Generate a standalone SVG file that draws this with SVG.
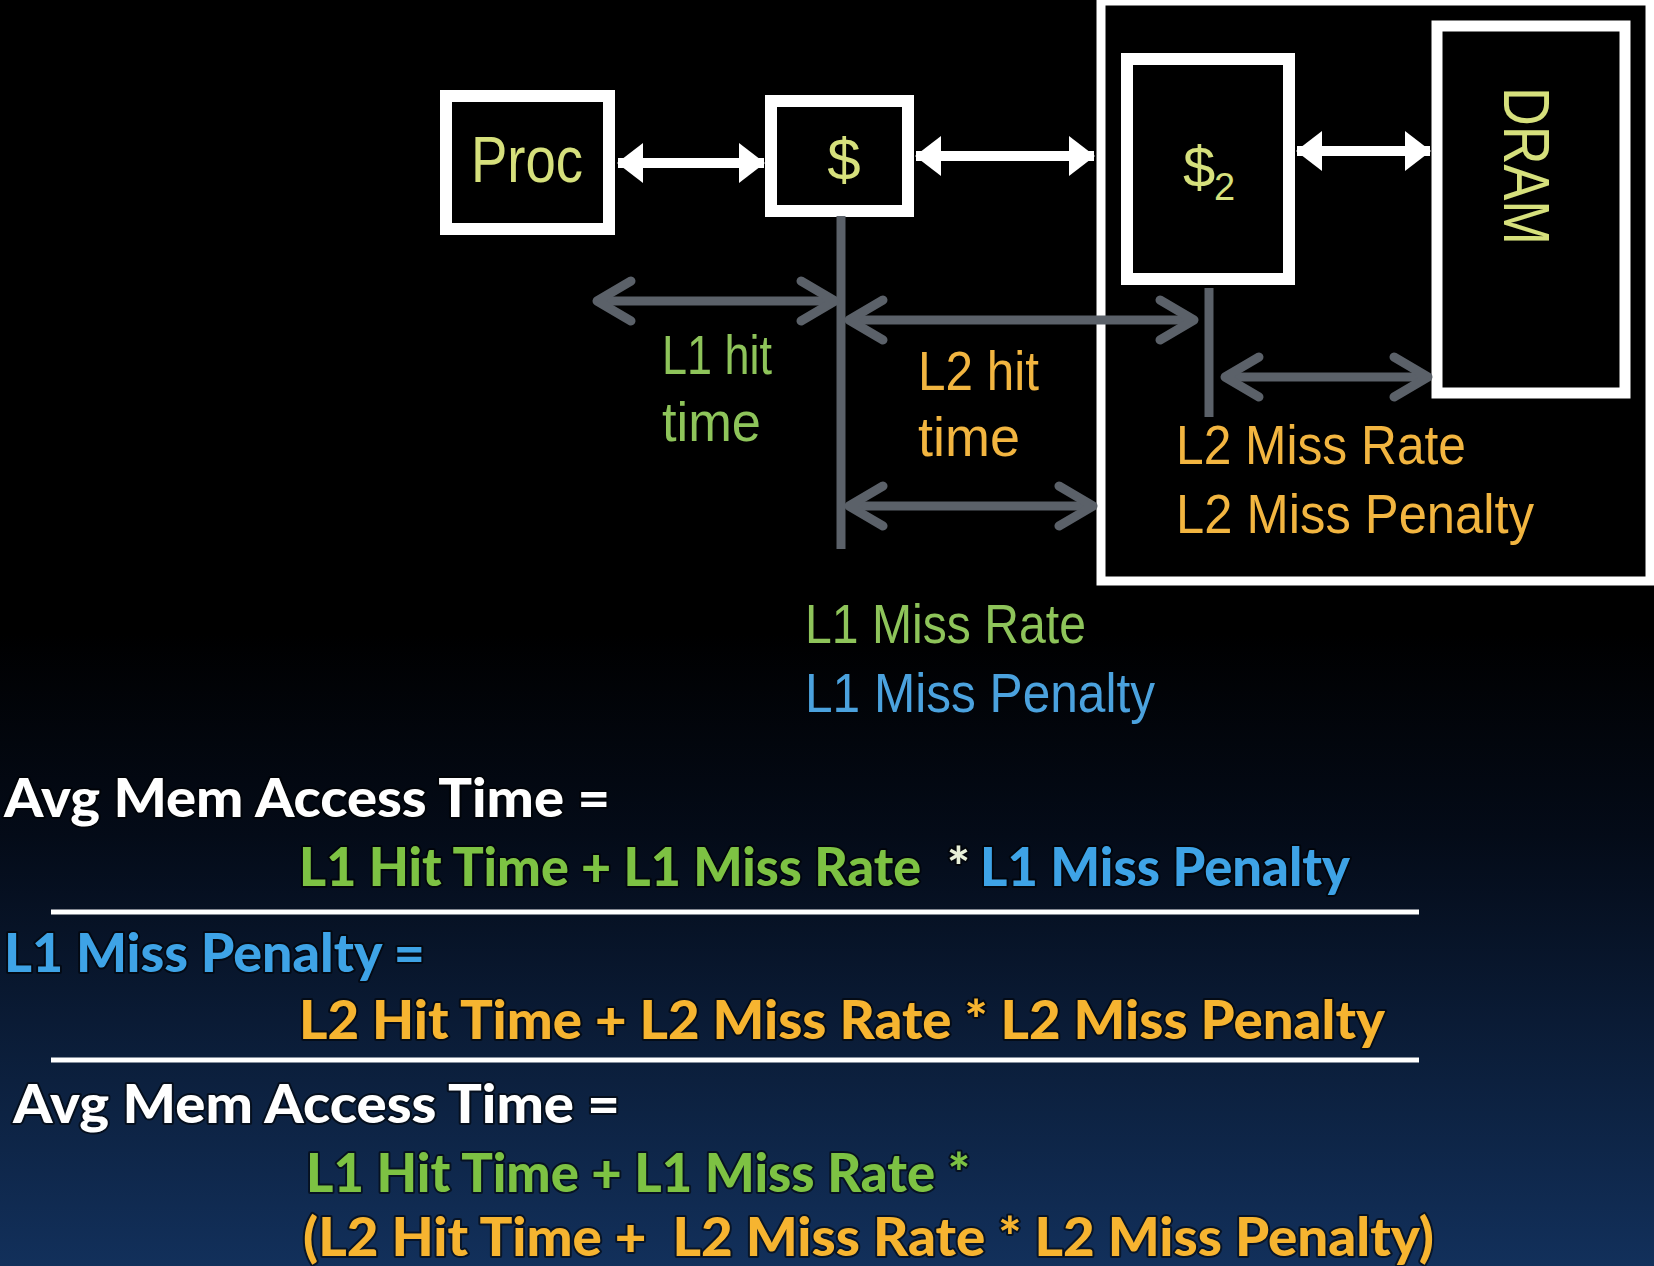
<svg xmlns="http://www.w3.org/2000/svg" width="1654" height="1266" viewBox="0 0 1654 1266">
<style>
.box{fill:#000;stroke:#fff}
.lbl{font-family:"Liberation Sans","Noto Sans",sans-serif;font-weight:400}
.f{font-family:"Lato","Open Sans","Liberation Sans",sans-serif;font-weight:900;stroke:#000;stroke-width:4;stroke-opacity:0.55;paint-order:stroke;stroke-linejoin:round}
.yg{fill:#d6e07c}
.g{fill:#8ec45a}
.o{fill:#f2b540}
.b{fill:#4ba2de}
.fg{fill:#7dc243}
.fo{fill:#f6b430}
.fb{fill:#3ea3e6}
.fw{fill:#fff}
.gl{stroke:#5b6169;stroke-width:9;fill:none}
.wl{stroke:#fff;stroke-width:10;fill:none}
</style>
<defs>
<linearGradient id="bg" x1="0" y1="0" x2="0" y2="1">
<stop offset="0" stop-color="#000"/>
<stop offset="0.5" stop-color="#000"/>
<stop offset="0.66" stop-color="#040b18"/>
<stop offset="1" stop-color="#12305b"/>
</linearGradient>
<marker id="wh" markerUnits="userSpaceOnUse" markerWidth="30" markerHeight="40" refX="0" refY="0" orient="auto-start-reverse" overflow="visible">
<path d="M1,0 L-25,-20 L-25,20 Z" fill="#fff"/>
</marker>
<marker id="gh" markerUnits="userSpaceOnUse" markerWidth="40" markerHeight="50" refX="0" refY="0" orient="auto-start-reverse" overflow="visible">
<path d="M-34,-20 L0,0 L-34,20" fill="none" stroke="#5b6169" stroke-width="9" stroke-linecap="round" stroke-linejoin="round"/>
</marker>
</defs>
<rect x="0" y="0" width="1654" height="1266" fill="url(#bg)"/>

<g id="l2-region">
<rect class="box" x="1101" y="1" width="549" height="580" stroke-width="9"/>
</g>

<g id="proc">
<rect class="box" x="446" y="96" width="163" height="133" stroke-width="12"/>
<text class="lbl yg" x="527" y="182" font-size="64" text-anchor="middle" textLength="112" lengthAdjust="spacingAndGlyphs">Proc</text>
</g>

<g id="cache-l1">
<rect class="box" x="771" y="101" width="137" height="110" stroke-width="12"/>
<text class="lbl yg" x="844" y="180" font-size="60" text-anchor="middle">$</text>
</g>

<g id="cache-l2">
<rect class="box" x="1127" y="59" width="162" height="220" stroke-width="12"/>
<text class="lbl yg" x="1183" y="187" font-size="58">$</text>
<text class="lbl yg" x="1214" y="200" font-size="38">2</text>
</g>

<g id="dram">
<rect class="box" x="1437" y="26" width="188" height="367" stroke-width="11"/>
<text class="lbl yg" transform="translate(1504,166) rotate(90)" x="0" y="0" font-size="64" text-anchor="middle" textLength="158" lengthAdjust="spacingAndGlyphs">DRAM</text>
</g>

<g id="connectors">
<line class="wl" x1="618" y1="163" x2="764" y2="163" marker-start="url(#wh)" marker-end="url(#wh)"/>
<line class="wl" x1="916" y1="156" x2="1094" y2="156" marker-start="url(#wh)" marker-end="url(#wh)"/>
<line class="wl" x1="1297" y1="151" x2="1430" y2="151" marker-start="url(#wh)" marker-end="url(#wh)"/>
<line class="gl" x1="841" y1="216" x2="841" y2="549"/>
<line class="gl" x1="1209" y1="288" x2="1209" y2="417"/>
<line class="gl" x1="597" y1="301" x2="835" y2="301" marker-start="url(#gh)" marker-end="url(#gh)"/>
<line class="gl" x1="849" y1="320" x2="1194" y2="320" marker-start="url(#gh)" marker-end="url(#gh)"/>
<line class="gl" x1="1225" y1="377" x2="1428" y2="377" marker-start="url(#gh)" marker-end="url(#gh)"/>
<line class="gl" x1="849" y1="506" x2="1093" y2="506" marker-start="url(#gh)" marker-end="url(#gh)"/>
</g>

<g id="labels">
<text class="lbl g" x="662" y="374" font-size="56" textLength="110" lengthAdjust="spacingAndGlyphs">L1 hit</text>
<text class="lbl g" x="662" y="441" font-size="56" textLength="99" lengthAdjust="spacingAndGlyphs">time</text>
<text class="lbl o" x="918" y="390" font-size="56" textLength="121" lengthAdjust="spacingAndGlyphs">L2 hit</text>
<text class="lbl o" x="918" y="456" font-size="56" textLength="102" lengthAdjust="spacingAndGlyphs">time</text>
<text class="lbl o" x="1176" y="464" font-size="56" textLength="290" lengthAdjust="spacingAndGlyphs">L2 Miss Rate</text>
<text class="lbl o" x="1176" y="533" font-size="56" textLength="358" lengthAdjust="spacingAndGlyphs">L2 Miss Penalty</text>
<text class="lbl g" x="805" y="643" font-size="56" textLength="281" lengthAdjust="spacingAndGlyphs">L1 Miss Rate</text>
<text class="lbl b" x="805" y="712" font-size="56" textLength="350" lengthAdjust="spacingAndGlyphs">L1 Miss Penalty</text>
</g>

<g id="formulas">
<text class="f fw" x="4" y="817" font-size="54" textLength="606" lengthAdjust="spacingAndGlyphs">Avg Mem Access Time =</text>
<text class="f fg" x="299" y="886" font-size="54" textLength="622" lengthAdjust="spacingAndGlyphs">L1 Hit Time + L1 Miss Rate</text>
<text class="f" x="947" y="886" font-size="54" fill="#e8f0d8">*</text>
<text class="f fb" x="980" y="886" font-size="54" textLength="370" lengthAdjust="spacingAndGlyphs">L1 Miss Penalty</text>
<line x1="51" y1="912" x2="1419" y2="912" stroke="#fff" stroke-width="5"/>
<text class="f fb" x="4" y="972" font-size="54" textLength="421" lengthAdjust="spacingAndGlyphs">L1 Miss Penalty =</text>
<text class="f fo" x="299" y="1039" font-size="54" textLength="1086" lengthAdjust="spacingAndGlyphs">L2 Hit Time + L2 Miss Rate * L2 Miss Penalty</text>
<line x1="51" y1="1060" x2="1419" y2="1060" stroke="#fff" stroke-width="5"/>
<text class="f fw" x="13" y="1123" font-size="54" textLength="607" lengthAdjust="spacingAndGlyphs">Avg Mem Access Time =</text>
<text class="f fg" x="306" y="1192" font-size="54" textLength="664" lengthAdjust="spacingAndGlyphs">L1 Hit Time + L1 Miss Rate *</text>
<text class="f fo" x="303" y="1256" font-size="54" textLength="1131" lengthAdjust="spacingAndGlyphs" xml:space="preserve">(L2 Hit Time +  L2 Miss Rate * L2 Miss Penalty)</text>
</g>
</svg>
